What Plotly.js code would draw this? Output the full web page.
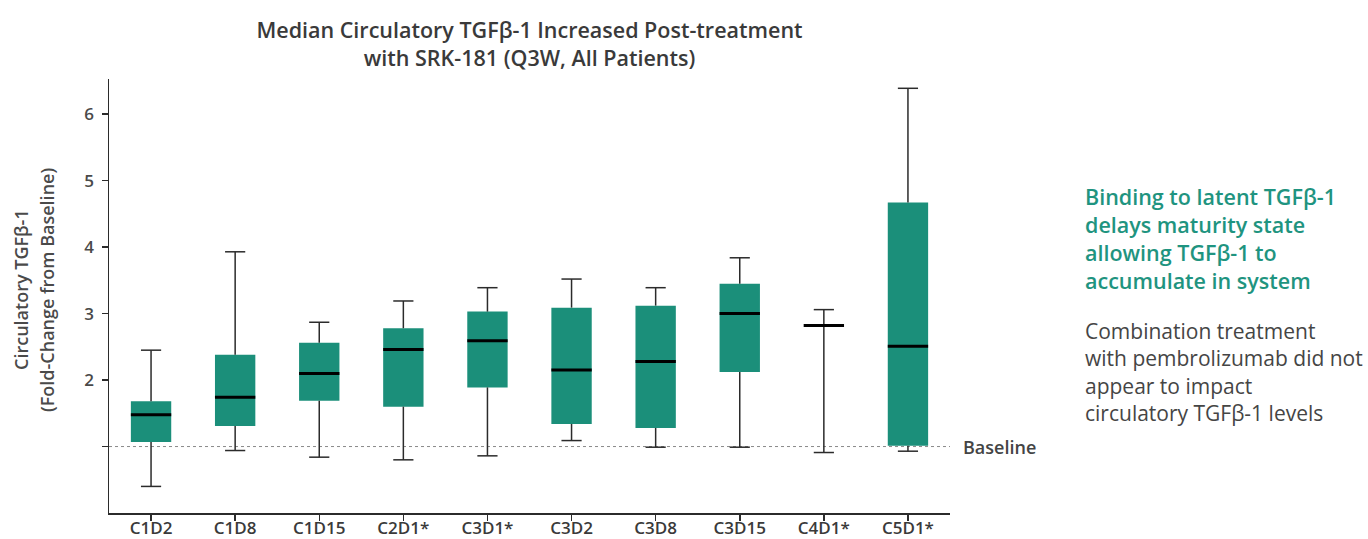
<!DOCTYPE html>
<html>
<head>
<meta charset="utf-8">
<script src="https://cdn.plot.ly/plotly-3.0.1.min.js"></script>
<style>html,body{margin:0;padding:0;background:#fff;}#chart{width:1368px;height:539px;}</style>
</head>
<body>
<div id="chart"></div>
<script>
// ---- data ----
const categories   = ['C1D2','C1D8','C1D15','C2D1*','C3D1*','C3D2','C3D8','C3D15','C4D1*','C5D1*'];
const lowerWhisker = [0.40, 0.94, 0.84, 0.80, 0.86, 1.09, 0.99, 0.99, 0.91, 0.93];
const q1           = [1.07, 1.31, 1.69, 1.60, 1.89, 1.34, 1.28, 2.12, 2.82, 1.01];
const median       = [1.48, 1.74, 2.10, 2.46, 2.59, 2.15, 2.28, 3.00, 2.82, 2.51];
const q3           = [1.68, 2.38, 2.56, 2.78, 3.03, 3.09, 3.12, 3.45, 2.82, 4.67];
const upperWhisker = [2.45, 3.93, 2.87, 3.19, 3.39, 3.52, 3.39, 3.84, 3.06, 6.39];
const yTickVals    = [1, 2, 3, 4, 5, 6];
const yTickText    = ['', '2', '3', '4', '5', '6'];
const baselineValue = 1;

const titleText = 'Median Circulatory TGFβ-1 Increased Post-treatment<br>with SRK-181 (Q3W, All Patients)';
const yTitleLine1 = 'Circulatory TGFβ-1';
const yTitleLine2 = '(Fold-Change from Baseline)';
const noteTeal  = 'Binding to latent TGFβ-1<br>delays maturity state<br>allowing TGFβ-1 to<br>accumulate in system';
const noteGray  = 'Combination treatment<br>with pembrolizumab did not<br>appear to impact<br>circulatory TGFβ-1 levels';

// ---- styling ----
const TEAL = '#1b8f7a';
const FONT = '"Open Sans", "Noto Sans", sans-serif';
const BOX_W = 0.48, CAP_HALF = 0.12, MED_HALF = 0.24;

const idx = categories.map((_, i) => i);

// boxes as floating bars
const boxTrace = {
  type: 'bar', x: idx, base: q1,
  y: q3.map((v, i) => v - q1[i]),
  width: BOX_W, marker: {color: TEAL, line: {width: 0}},
  hoverinfo: 'skip', showlegend: false
};

// whiskers + caps
const wx = [], wy = [];
idx.forEach(i => {
  wx.push(i, i, null); wy.push(q3[i], upperWhisker[i], null);
  wx.push(i, i, null); wy.push(lowerWhisker[i], q1[i], null);
  wx.push(i - CAP_HALF, i + CAP_HALF, null); wy.push(upperWhisker[i], upperWhisker[i], null);
  wx.push(i - CAP_HALF, i + CAP_HALF, null); wy.push(lowerWhisker[i], lowerWhisker[i], null);
});
const whiskerTrace = {
  type: 'scatter', mode: 'lines', x: wx, y: wy,
  line: {color: '#2b2b2b', width: 1.5}, hoverinfo: 'skip', showlegend: false
};

// medians
const mx = [], my = [];
idx.forEach(i => { mx.push(i - MED_HALF, i + MED_HALF, null); my.push(median[i], median[i], null); });
const medianTrace = {
  type: 'scatter', mode: 'lines', x: mx, y: my,
  line: {color: '#000000', width: 3}, hoverinfo: 'skip', showlegend: false
};

const L = 109, R = 418, T = 79, B = 26;
const W = 1368, H = 539;
const pw = W - L - R, ph = H - T - B;
const px2paperX = p => (p - L) / pw;
const px2paperY = p => (H - B - p) / ph;

const layout = {
  width: W, height: H,
  margin: {l: L, r: R, t: T, b: B, pad: 0},
  paper_bgcolor: '#ffffff', plot_bgcolor: '#ffffff',
  font: {family: FONT, color: '#3a3a3a'},
  showlegend: false,
  title: {
    text: titleText, x: 0.5, xref: 'paper', xanchor: 'center',
    y: 1 - 38 / H, yref: 'container', yanchor: 'middle',
    font: {family: FONT, size: 21.5, weight: 600, color: '#3a3a3a'}
  },
  xaxis: {
    range: [-0.5, categories.length - 0.5],
    tickmode: 'array', tickvals: idx, ticktext: categories,
    showline: true, linecolor: '#2b2b2b', linewidth: 1.5,
    ticks: 'outside', ticklen: 6, tickwidth: 1.5, tickcolor: '#2b2b2b',
    ticklabelstandoff: -7,
    tickfont: {family: FONT, size: 17, weight: 600, color: '#3a3a3a'},
    showgrid: false, zeroline: false, fixedrange: true
  },
  yaxis: {
    range: [0, 6.53],
    tickmode: 'array', tickvals: yTickVals, ticktext: yTickText,
    showline: true, linecolor: '#2b2b2b', linewidth: 1.5,
    ticks: 'outside', ticklen: 6, tickwidth: 1.5, tickcolor: '#2b2b2b',
    ticklabelstandoff: 4,
    tickfont: {family: FONT, size: 17, weight: 600, color: '#4a4a4a'},
    showgrid: false, zeroline: false, fixedrange: true
  },
  shapes: [{
    type: 'line', xref: 'paper', x0: 0, x1: 1, yref: 'y', y0: baselineValue, y1: baselineValue,
    line: {color: '#8a8a8a', width: 1, dash: 'dot'}, layer: 'below'
  }],
  annotations: [
    {text: 'Baseline', xref: 'paper', x: 1, xanchor: 'left', xshift: 11,
     yref: 'y', y: baselineValue, yanchor: 'middle', showarrow: false,
     font: {family: FONT, size: 18, weight: 600, color: '#444444'}},
    {text: yTitleLine1, xref: 'paper', x: px2paperX(21), xanchor: 'center',
     yref: 'paper', y: px2paperY(290), yanchor: 'middle', textangle: -90, showarrow: false,
     font: {family: FONT, size: 18, weight: 600, color: '#4a4a4a'}},
    {text: yTitleLine2, xref: 'paper', x: px2paperX(47), xanchor: 'center',
     yref: 'paper', y: px2paperY(290), yanchor: 'middle', textangle: -90, showarrow: false,
     font: {family: FONT, size: 18, weight: 600, color: '#4a4a4a'}},
    {text: noteTeal, xref: 'paper', x: px2paperX(1083), xanchor: 'left', align: 'left',
     yref: 'paper', y: px2paperY(239), yanchor: 'middle', showarrow: false,
     font: {family: FONT, size: 21.5, weight: 600, color: '#1f9480'}},
    {text: noteGray, xref: 'paper', x: px2paperX(1083), xanchor: 'left', align: 'left',
     yref: 'paper', y: px2paperY(372), yanchor: 'middle', showarrow: false,
     font: {family: FONT, size: 21, weight: 400, color: '#454545'}}
  ]
};

Plotly.newPlot('chart', [whiskerTrace, boxTrace, medianTrace], layout, {displayModeBar: false, staticPlot: true});
</script>
</body>
</html>
